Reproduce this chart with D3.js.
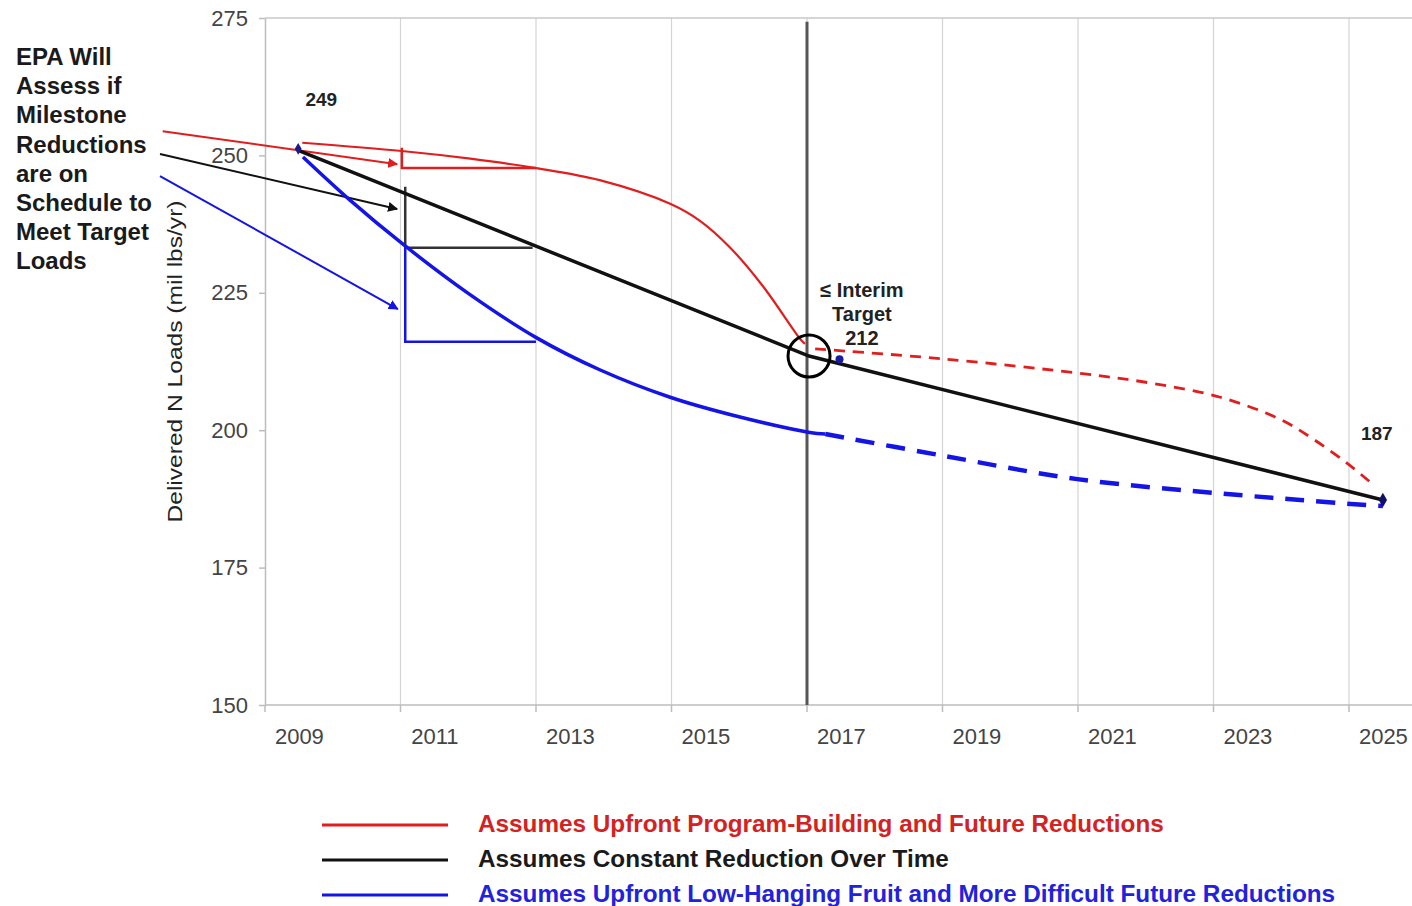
<!DOCTYPE html>
<html>
<head>
<meta charset="utf-8">
<script src="https://cdn.jsdelivr.net/npm/d3@7"></script>
<style>
  body { margin: 0; background: #fff; }
  text { font-family: "Liberation Sans", Arial, Helvetica, sans-serif; }
</style>
</head>
<body>
<svg id="chart" width="1412" height="906"></svg>
<script>
// ---- data ----
const xTickYears = [2009, 2011, 2013, 2015, 2017, 2019, 2021, 2023, 2025];
const gridYears = [2008.5, 2010.5, 2012.5, 2014.5, 2016.5, 2018.5, 2020.5, 2022.5, 2024.5];
const yTicks = [150, 175, 200, 225, 250, 275];

// red: upfront program-building, then future reductions
const redYears = [2009.05, 2010.52, 2011.53, 2012.5, 2013.44, 2014.48, 2014.92, 2015.36, 2015.85, 2016.40, 2016.47];
const redLoads = [252.3, 250.8, 249.4, 247.7, 245.5, 241.2, 238.1, 233.3, 226.2, 216.6, 215.7];
const redDashYears = [2016.62, 2018.49, 2020.49, 2021.56, 2022.6, 2023.48, 2023.97, 2024.47, 2024.81];
const redDashLoads = [214.8, 213.0, 210.4, 208.6, 206.0, 202.0, 198.4, 194.0, 190.6];

// black: constant reduction
const blackYears = [2008.99, 2016.53, 2025.0];
const blackLoads = [250.9, 213.5, 187.3];

// blue: low-hanging fruit first
const blueYears = [2009.06, 2009.75, 2010.55, 2011.5, 2012.51, 2013.44, 2014.48, 2015.51, 2016.54, 2016.77];
const blueLoads = [249.7, 241.9, 233.7, 224.9, 216.8, 211.0, 206.0, 202.4, 199.6, 199.3];
const blueDashYears = [2016.77, 2018.49, 2020.49, 2022.6, 2023.78, 2024.85, 2025.0];
const blueDashLoads = [199.3, 195.4, 191.1, 188.5, 187.3, 186.3, 186.2];

// milestone steps at 2011 -> 2013  [x, top, bottom, xEnd]
const stepRed = [2010.52, 251.4, 247.7, 2012.5];
const stepBlack = [2010.57, 244.3, 233.2, 2012.45];
const stepBlue = [2010.57, 233.7, 216.1, 2012.5];

// arrows from the left note  [year0, load0, year1, load1]
const arrowRed = [2006.99, 254.4, 2010.45, 248.4];
const arrowBlack = [2006.95, 250.25, 2010.45, 240.25];
const arrowBlue = [2006.95, 246.25, 2010.46, 222.05];

const noteLines = ["EPA Will", "Assess if", "Milestone", "Reductions", "are on", "Schedule to", "Meet Target", "Loads"];
const legendLabels = [
  "Assumes Upfront Program-Building and Future Reductions",
  "Assumes Constant Reduction Over Time",
  "Assumes Upfront Low-Hanging Fruit and More Difficult Future Reductions"
];

const RED = '#e01e1e', BLACK = '#111', BLUE = '#1414e6';

const svg = d3.select('#chart');
svg.append('rect').attr('width', 1412).attr('height', 906).attr('fill', '#fff');

const x = d3.scaleLinear().domain([2008.5, 2024.5]).range([265, 1349]);
const y = d3.scaleLinear().domain([150, 275]).range([705, 18]);
const zip = (xs, ys) => xs.map((d, i) => [d, ys[i]]);

// grid lines
svg.append('g').selectAll('line').data(gridYears.slice(1)).enter().append('line')
  .attr('x1', d => x(d)).attr('x2', d => x(d))
  .attr('y1', y(275)).attr('y2', y(150))
  .attr('stroke', '#d4d4d4').attr('stroke-width', 1.2);
svg.append('line')
  .attr('x1', x(2008.5)).attr('x2', 1412).attr('y1', y(275)).attr('y2', y(275))
  .attr('stroke', '#c8c8c8').attr('stroke-width', 1.5);

// x axis
svg.append('line')
  .attr('x1', x(2008.5)).attr('x2', 1412).attr('y1', y(150)).attr('y2', y(150))
  .attr('stroke', '#bdbdbd').attr('stroke-width', 1.5);
svg.append('g').selectAll('line').data(gridYears).enter().append('line')
  .attr('x1', d => x(d)).attr('x2', d => x(d))
  .attr('y1', y(150)).attr('y2', y(150) + 7)
  .attr('stroke', '#bdbdbd').attr('stroke-width', 1.5);
const xAxis = svg.append('g')
  .attr('transform', `translate(0,${y(150)})`)
  .call(d3.axisBottom(x).tickValues(xTickYears).tickSize(0).tickPadding(23).tickFormat(d3.format('d')));
xAxis.select('.domain').remove();
xAxis.selectAll('text').attr('font-size', 22).attr('fill', '#444')
  .attr('font-family', '"Liberation Sans", Arial, sans-serif');

// y axis
const yAxis = svg.append('g')
  .attr('transform', `translate(${x(2008.5)},0)`)
  .call(d3.axisLeft(y).tickValues(yTicks).tickSize(6).tickSizeOuter(0).tickPadding(11));
yAxis.select('.domain').attr('stroke', '#bdbdbd').attr('stroke-width', 1.5);
yAxis.selectAll('.tick line').attr('stroke', '#bdbdbd').attr('stroke-width', 1.5);
yAxis.selectAll('text').attr('font-size', 22).attr('fill', '#444')
  .attr('font-family', '"Liberation Sans", Arial, sans-serif');

svg.append('text')
  .attr('transform', `translate(182,${y(212.5)}) rotate(-90)`)
  .attr('text-anchor', 'middle')
  .attr('font-size', 21).attr('fill', '#222')
  .attr('textLength', 322).attr('lengthAdjust', 'spacingAndGlyphs')
  .text('Delivered N Loads (mil lbs/yr)');

// interim target marker line
svg.append('line')
  .attr('x1', x(2016.5)).attr('x2', x(2016.5))
  .attr('y1', y(274.3)).attr('y2', y(150))
  .attr('stroke', '#555').attr('stroke-width', 3);

// arrow heads
const defs = svg.append('defs');
[['red', RED], ['black', BLACK], ['blue', BLUE]].forEach(function(m) {
  defs.append('marker')
    .attr('id', 'arrow-' + m[0])
    .attr('viewBox', '0 0 10 10').attr('refX', 9).attr('refY', 5)
    .attr('markerWidth', 5).attr('markerHeight', 5)
    .attr('markerUnits', 'strokeWidth')
    .attr('orient', 'auto')
    .append('path').attr('d', 'M0,0 L10,5 L0,10 Z').attr('fill', m[1]);
});

const line = d3.line().x(d => x(d[0])).y(d => y(d[1]));
const curve = d3.line().x(d => x(d[0])).y(d => y(d[1])).curve(d3.curveCatmullRom.alpha(0.5));

// arrows
[[arrowRed, RED, 'red', 2], [arrowBlack, BLACK, 'black', 2], [arrowBlue, BLUE, 'blue', 2]].forEach(function(a) {
  svg.append('line')
    .attr('x1', x(a[0][0])).attr('y1', y(a[0][1]))
    .attr('x2', x(a[0][2])).attr('y2', y(a[0][3]))
    .attr('stroke', a[1]).attr('stroke-width', a[3])
    .attr('marker-end', `url(#arrow-${a[2]})`);
});

// steps
[[stepRed, RED, 2.5], [stepBlack, '#333', 2.5], [stepBlue, BLUE, 2.5]].forEach(function(s) {
  const p = s[0];
  svg.append('path')
    .attr('d', line([[p[0], p[1]], [p[0], p[2]], [p[3], p[2]]]))
    .attr('fill', 'none').attr('stroke', s[1]).attr('stroke-width', s[2]);
});

// series
svg.append('path').attr('d', curve(zip(redYears, redLoads)))
  .attr('fill', 'none').attr('stroke', RED).attr('stroke-width', 2.2);
svg.append('path').attr('d', curve(zip(redDashYears, redDashLoads)))
  .attr('fill', 'none').attr('stroke', RED).attr('stroke-width', 2.8)
  .attr('stroke-dasharray', '11,8');
svg.append('path').attr('d', curve(zip(blueYears, blueLoads)))
  .attr('fill', 'none').attr('stroke', BLUE).attr('stroke-width', 3.5);
svg.append('path').attr('d', curve(zip(blueDashYears, blueDashLoads)))
  .attr('fill', 'none').attr('stroke', BLUE).attr('stroke-width', 4.5)
  .attr('stroke-dasharray', '19,12');
svg.append('path').attr('d', line(zip(blackYears, blackLoads)))
  .attr('fill', 'none').attr('stroke', BLACK).attr('stroke-width', 3.5);

// markers
svg.append('path')
  .attr('d', d3.symbol().type(d3.symbolDiamond).size(40)())
  .attr('transform', `translate(${x(blackYears[0])},${y(251.2)})`)
  .attr('fill', '#1a1a8c');
svg.append('path')
  .attr('d', d3.symbol().type(d3.symbolDiamond).size(60)())
  .attr('transform', `translate(${x(blackYears[2])},${y(blackLoads[2])})`)
  .attr('fill', '#10106a');
svg.append('circle')
  .attr('cx', x(2016.98)).attr('cy', y(212.9)).attr('r', 4)
  .attr('fill', '#1a1aa0');

// circle at the interim check
svg.append('circle')
  .attr('cx', x(blackYears[1])).attr('cy', y(blackLoads[1])).attr('r', 21)
  .attr('fill', 'none').attr('stroke', '#000').attr('stroke-width', 3);

// value labels
svg.append('text').attr('x', x(2009.33)).attr('y', y(259.0))
  .attr('text-anchor', 'middle').attr('font-size', 19).attr('font-weight', 'bold').attr('fill', '#222')
  .text('249');
svg.append('text').attr('x', x(2024.91)).attr('y', y(198.2))
  .attr('text-anchor', 'middle').attr('font-size', 19).attr('font-weight', 'bold').attr('fill', '#222')
  .text('187');
const interim = ['≤ Interim', 'Target', '212'];
svg.append('g').selectAll('text').data(interim).enter().append('text')
  .attr('x', x(2017.31))
  .attr('y', (d, i) => y(224.2) + i * 24)
  .attr('text-anchor', 'middle').attr('font-size', 20).attr('font-weight', 'bold').attr('fill', '#222')
  .text(d => d);

// left note
svg.append('g').selectAll('text').data(noteLines).enter().append('text')
  .attr('x', 16).attr('y', (d, i) => 65 + i * 29.2)
  .attr('font-size', 24).attr('font-weight', 'bold').attr('fill', '#1a1a1a')
  .text(d => d);

// legend
const legColors = [RED, BLACK, BLUE];
const legTextColors = ['#d42222', '#1a1a1a', '#2222dd'];
const leg = svg.append('g').selectAll('g').data(legendLabels).enter().append('g')
  .attr('transform', (d, i) => `translate(0,${825 + i * 35})`);
leg.append('line').attr('x1', 322).attr('x2', 448).attr('y1', 0).attr('y2', 0)
  .attr('stroke', (d, i) => legColors[i]).attr('stroke-width', 3);
leg.append('text').attr('x', 478).attr('y', 7)
  .attr('font-size', 24.3).attr('font-weight', 'bold')
  .attr('fill', (d, i) => legTextColors[i])
  .text(d => d);
</script>
</body>
</html>
